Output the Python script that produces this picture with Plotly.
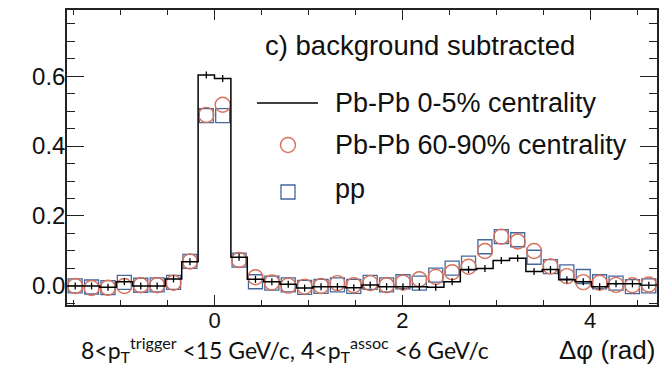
import numpy as np
import plotly.graph_objects as go

# ---- data (36 bins from -pi/2 to 3pi/2) ----
n_bins = 36
central_0_5 = [0.000, 0.000, -0.004, 0.012, 0.000, 0.000, 0.020, 0.069, 0.603, 0.593,
               0.082, 0.019, 0.012, 0.005, -0.006, -0.002, -0.002, -0.005, 0.003, -0.002,
               -0.002, -0.002, -0.004, 0.012, 0.047, 0.050, 0.073, 0.079, 0.041, 0.047,
               0.018, 0.012, -0.002, 0.006, 0.006, 0.002]
central_err = [0.01] * n_bins
periph_60_90 = [0.000, -0.006, -0.005, 0.000, 0.002, 0.002, 0.009, 0.070, 0.489, 0.518,
                0.074, 0.025, 0.010, 0.001, -0.002, 0.000, 0.008, 0.002, 0.008, 0.002,
                0.010, 0.019, 0.026, 0.039, 0.055, 0.100, 0.141, 0.127, 0.100, 0.056,
                0.028, 0.011, 0.009, 0.003, 0.002, 0.004]
pp_vals = [0.000, -0.003, -0.005, 0.010, 0.002, 0.003, 0.010, 0.070, 0.487, 0.487,
           0.074, 0.012, 0.008, 0.003, -0.004, -0.001, 0.003, -0.001, 0.010, 0.003,
           0.012, 0.008, 0.031, 0.051, 0.065, 0.112, 0.141, 0.132, 0.082, 0.055,
           0.040, 0.027, 0.012, 0.008, -0.002, 0.000]
y_ticks = [0.0, 0.2, 0.4, 0.6]
y_tick_labels = ["0.0", "0.2", "0.4", "0.6"]
x_ticks = [0, 2, 4]

edges = np.linspace(-np.pi / 2, 3 * np.pi / 2, n_bins + 1)
centers = 0.5 * (edges[:-1] + edges[1:])

CIRC = "#d6705a"
SQ = "#46679a"
FONT = "Liberation Sans"

fig = go.Figure()
fig.add_trace(go.Scatter(
    x=centers, y=pp_vals, mode="markers",
    marker=dict(symbol="square-open", size=14, color=SQ, line=dict(width=1.3, color=SQ)),
    showlegend=False))
fig.add_trace(go.Scatter(
    x=centers, y=periph_60_90, mode="markers",
    marker=dict(symbol="circle-open", size=15, color=CIRC, line=dict(width=1.4, color=CIRC)),
    showlegend=False))
fig.add_trace(go.Scatter(
    x=list(edges), y=list(central_0_5) + [central_0_5[-1]], mode="lines",
    line=dict(shape="hv", color="black", width=1.5), showlegend=False))
fig.add_trace(go.Scatter(
    x=centers, y=central_0_5, mode="markers",
    marker=dict(size=1, color="black"),
    error_y=dict(type="data", array=central_err, width=0, thickness=1.3, color="black"),
    showlegend=False))

# ---- legend / texts ----
def px_x(px):
    return (px - 67) / 590.0

def px_y(py):
    return (305 - py) / 295.0

fig.add_shape(type="line", xref="paper", yref="paper",
              x0=px_x(257), x1=px_x(318), y0=px_y(103), y1=px_y(103),
              line=dict(color="black", width=1.5))
fig.add_shape(type="circle", xref="paper", yref="paper",
              x0=px_x(280.5), x1=px_x(295.5), y0=px_y(152.5), y1=px_y(137.5),
              line=dict(color=CIRC, width=1.4))
fig.add_shape(type="rect", xref="paper", yref="paper",
              x0=px_x(281), x1=px_x(295), y0=px_y(199), y1=px_y(185),
              line=dict(color=SQ, width=1.3))

annots = [
    dict(text="c) background subtracted", x=px_x(263), y=px_y(45), size=27.5),
    dict(text="Pb-Pb 0-5% centrality", x=px_x(333), y=px_y(103), size=27),
    dict(text="Pb-Pb 60-90% centrality", x=px_x(333), y=px_y(145), size=27),
    dict(text="pp", x=px_x(333), y=px_y(189), size=27),
]
for a in annots:
    fig.add_annotation(text=a["text"], x=a["x"], y=a["y"], xref="paper", yref="paper",
                       xanchor="left", yanchor="middle", showarrow=False,
                       font=dict(family=FONT, size=a["size"], color="#111"))

fig.add_annotation(
    text="8<p<sub>T</sub><sup>trigger</sup> <15 GeV/c, 4<p<sub>T</sub><sup>assoc</sup> <6 GeV/c",
    x=px_x(79), y=px_y(349), xref="paper", yref="paper", xanchor="left", yanchor="middle",
    showarrow=False, font=dict(family="Lato", size=23, color="#111"))
fig.add_annotation(
    text="Δφ (rad)", x=px_x(657), y=px_y(350), xref="paper", yref="paper",
    xanchor="right", yanchor="middle", showarrow=False,
    font=dict(family=FONT, size=26, color="#111"))

fig.update_layout(
    width=669, height=365,
    margin=dict(l=67, r=12, t=10, b=60),
    plot_bgcolor="white", paper_bgcolor="white",
    font=dict(family=FONT, color="#111"),
)
fig.update_xaxes(
    range=[-np.pi / 2, 3 * np.pi / 2], tickvals=x_ticks, ticks="inside", ticklen=10,
    tickwidth=1.3, tickcolor="#222", showgrid=False, zeroline=False, automargin=False,
    ticklabelstandoff=-5,
    showline=True, linecolor="#222", linewidth=1.5, mirror="ticks",
    tickfont=dict(size=22, family=FONT),
    minor=dict(dtick=0.5, tick0=0, ticks="inside", ticklen=5, tickcolor="#222", tickwidth=1.1),
)
fig.update_yaxes(
    range=[-0.0545, 0.789], tickvals=y_ticks, ticktext=y_tick_labels, ticks="inside",
    ticklen=17, tickwidth=1.3, tickcolor="#222", showgrid=False, zeroline=False,
    automargin=False, ticklabelstandoff=-5,
    showline=True, linecolor="#222", linewidth=1.5, mirror="ticks",
    tickfont=dict(size=24, family=FONT),
    minor=dict(dtick=0.05, tick0=0, ticks="inside", ticklen=8, tickcolor="#222", tickwidth=1.1),
)

fig.write_html("out.html", config={"displayModeBar": False},
               post_script="document.body.style.margin='0';document.body.style.overflow='hidden';")
